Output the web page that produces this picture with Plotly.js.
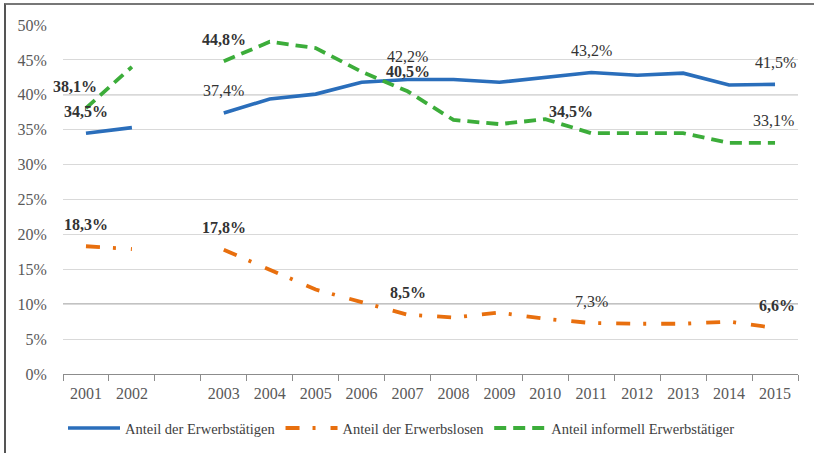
<!DOCTYPE html>
<html>
<head>
<meta charset="utf-8">
<script src="https://cdn.plot.ly/plotly-3.0.1.min.js"></script>
<style>
  html, body { margin: 0; padding: 0; background: #fff; }
  #wrap { position: relative; width: 814px; height: 453px; overflow: hidden; }
  #chart { width: 814px; height: 453px; }
  #frame { position: absolute; left: 4px; top: 3px; width: 830px; height: 460px;
           border-left: 2px solid #555; border-top: 2px solid #777; pointer-events: none; }
</style>
</head>
<body>
<div id="wrap">
  <div id="chart"></div>
  <div id="frame"></div>
</div>
<script>
// Categories (a blank slot between 2002 and 2003, as in the original)
const years = ['2001', '2002', ' ', '2003', '2004', '2005', '2006', '2007', '2008',
               '2009', '2010', '2011', '2012', '2013', '2014', '2015'];

// Series values in percent (null = gap)
const erwerbstaetige = [34.5, 35.3, null, 37.4, 39.4, 40.1, 41.8, 42.2, 42.2,
                        41.8, 42.5, 43.2, 42.8, 43.1, 41.4, 41.5];
const erwerbslose    = [18.3, 17.9, null, 17.8, 14.9, 12.1, 10.3, 8.5, 8.1,
                        8.8, 7.9, 7.3, 7.2, 7.2, 7.5, 6.6];
const informell      = [38.1, 44.0, null, 44.8, 47.6, 46.7, 43.3, 40.5, 36.4,
                        35.8, 36.5, 34.5, 34.5, 34.5, 33.1, 33.1];

// Series names
const names = ['Anteil der Erwerbstätigen', 'Anteil der Erwerbslosen', 'Anteil informell Erwerbstätiger'];

// Which years carry a value label
const labelYearsE = ['2001', '2003', '2007', '2011', '2015'];
const labelYearsL = ['2001', '2003', '2007', '2011', '2015'];
const labelYearsI = ['2001', '2003', '2007', '2011', '2015'];

// Y ticks
const yTicks = [0, 5, 10, 15, 20, 25, 30, 35, 40, 45, 50];
const yTickText = yTicks.map(function (v) { return v + '%'; });

const FONT = 'Liberation Serif';
const colors = ['#2a6ebb', '#e86f0e', '#3cad3a'];

const traces = [
  { x: years, y: erwerbstaetige, name: names[0], type: 'scatter', mode: 'lines',
    line: { color: colors[0], width: 3.6 }, connectgaps: false },
  { x: years, y: erwerbslose, name: names[1], type: 'scatter', mode: 'lines',
    line: { color: colors[1], width: 3.8, dash: '14px,13px,3px,15px' }, connectgaps: false },
  { x: years, y: informell, name: names[2], type: 'scatter', mode: 'lines',
    line: { color: colors[2], width: 3.8, dash: '12px,7px' }, connectgaps: false }
];

// Label styling (offsets/boldness per label), kept apart from the data
const labelStyle = {
  'E2001': { bold: true }, 'E2003': { bold: false }, 'E2007': { bold: false, yshift: 23 },
  'E2011': { bold: false }, 'E2015': { bold: false },
  'L2001': { bold: true }, 'L2003': { bold: true }, 'L2007': { bold: true },
  'L2011': { bold: false }, 'L2015': { bold: true, xshift: 2 },
  'I2001': { bold: true, xshift: -11 }, 'I2003': { bold: true }, 'I2007': { bold: true, yshift: 20 },
  'I2011': { bold: true, xshift: -20 }, 'I2015': { bold: false, xshift: -2 }
};

function fmt(v) { return v.toFixed(1).replace('.', ',') + '%'; }

const annotations = [];
function addLabels(key, arr, which) {
  which.forEach(function (yr) {
    const i = years.indexOf(yr);
    const v = arr[i];
    const st = labelStyle[key + yr] || {};
    annotations.push({
      x: i, y: v, xref: 'x', yref: 'y',
      text: st.bold ? '<b>' + fmt(v) + '</b>' : fmt(v),
      showarrow: false, yshift: st.yshift || 22, xshift: st.xshift || 0,
      font: { family: FONT, size: 16, color: '#333333' }
    });
  });
}
addLabels('E', erwerbstaetige, labelYearsE);
addLabels('L', erwerbslose, labelYearsL);
addLabels('I', informell, labelYearsI);

const layout = {
  width: 814, height: 453,
  margin: { l: 63, r: 16, t: 25, b: 79 },
  paper_bgcolor: '#ffffff', plot_bgcolor: '#ffffff',
  font: { family: FONT, size: 16, color: '#595959' },
  showlegend: true,
  legend: {
    orientation: 'h', x: 0, xanchor: 'left',
    yref: 'container', y: 0.055, yanchor: 'middle',
    font: { family: FONT, size: 14.5, color: '#404040' },
    itemwidth: 52,
    traceorder: 'normal'
  },
  xaxis: {
    type: 'category', categoryorder: 'array', categoryarray: years,
    range: [-0.5, years.length - 0.5],
    automargin: false,
    showgrid: false, zeroline: false,
    showline: true, linecolor: '#8c8c8c', linewidth: 1,
    ticks: 'outside', tickson: 'boundaries', ticklen: 6, tickcolor: '#8c8c8c',
    tickfont: { family: FONT, size: 16, color: '#595959' },
    ticklabelstandoff: 5,
    tickangle: 0,
    fixedrange: true
  },
  yaxis: {
    range: [0, 50], tickmode: 'array', tickvals: yTicks, ticktext: yTickText,
    automargin: false,
    showgrid: true, gridcolor: '#d9d9d9', gridwidth: 1,
    zeroline: false, showline: false, ticks: 'outside', ticklen: 12, tickcolor: 'rgba(0,0,0,0)',
    tickfont: { family: FONT, size: 16, color: '#595959' },
    fixedrange: true
  },
  shapes: [
    { type: 'line', xref: 'paper', yref: 'y', x0: 0, x1: 1, y0: 10, y1: 10,
      line: { color: '#3a3a3a', width: 1 }, layer: 'below' },
    { type: 'line', xref: 'paper', yref: 'y', x0: 0, x1: 1, y0: 40, y1: 40,
      line: { color: '#a0a0a0', width: 1 }, layer: 'below' }
  ],
  annotations: annotations
};

Plotly.newPlot('chart', traces, layout, { displayModeBar: false });
</script>
</body>
</html>
